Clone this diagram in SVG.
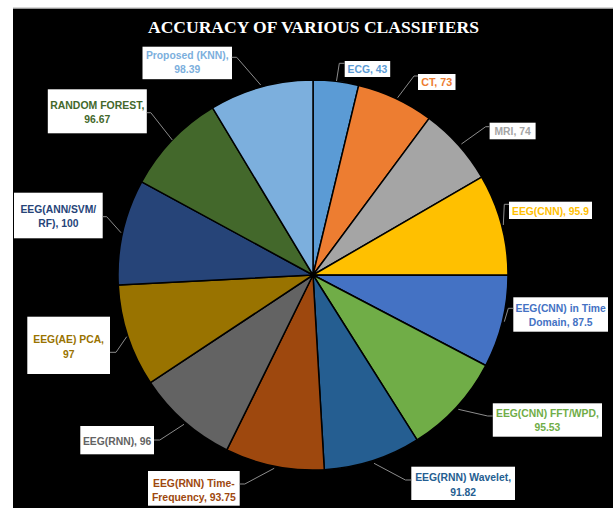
<svg xmlns="http://www.w3.org/2000/svg" width="613" height="508" viewBox="0 0 613 508">
<style>
.slice{stroke:#000;stroke-width:1.5;stroke-linejoin:round}
.box{fill:#fff}
.lbl{font-family:"Liberation Sans",Arial,sans-serif;font-weight:bold;font-size:11px;text-anchor:middle}
.lead{fill:none;stroke:#8c8c8c;stroke-width:1}
.title{font-family:"Liberation Serif","Times New Roman",serif;font-weight:bold;font-size:17.5px;fill:#fff;text-anchor:middle}
</style>
<rect x="0" y="0" width="613" height="508" fill="#fff"/>
<rect x="13" y="8.5" width="600" height="499.5" fill="#000"/>
<line x1="13" y1="8" x2="613" y2="8" stroke="#b0b0b0" stroke-width="1"/>
<text class="title" x="313.5" y="33" textLength="331" lengthAdjust="spacingAndGlyphs">ACCURACY OF VARIOUS CLASSIFIERS</text>

<g id="slice-ecg">
<path class="slice" fill="#5B9BD5" d="M313,275 L313,80 A195,195 0 0,1 358.68,85.43 Z"/>
<rect class="box" x="344.7" y="61" width="45.5" height="16"/>
<text class="lbl" fill="#5B9BD5" x="367.45" y="73" textLength="39.7" lengthAdjust="spacingAndGlyphs">ECG, 43</text>
</g>
<g id="slice-ct">
<path class="slice" fill="#ED7D31" d="M313,275 L358.68,85.43 A195,195 0 0,1 429.13,118.35 Z"/>
<rect class="box" x="418" y="74" width="37.5" height="16"/>
<text class="lbl" fill="#ED7D31" x="436.75" y="86" textLength="31" lengthAdjust="spacingAndGlyphs">CT, 73</text>
</g>
<g id="slice-mri">
<path class="slice" fill="#A5A5A5" d="M313,275 L429.13,118.35 A195,195 0 0,1 481.65,177.10 Z"/>
<rect class="box" x="489.6" y="122.7" width="46" height="16.6"/>
<text class="lbl" fill="#A5A5A5" x="512.6" y="135" textLength="36.2" lengthAdjust="spacingAndGlyphs">MRI, 74</text>
</g>
<g id="slice-eeg-cnn">
<path class="slice" fill="#FFC000" d="M313,275 L481.65,177.10 A195,195 0 0,1 508.00,275.28 Z"/>
<rect class="box" x="509" y="201.7" width="83" height="17.3"/>
<text class="lbl" fill="#FFC000" x="550.5" y="214.5" textLength="77" lengthAdjust="spacingAndGlyphs">EEG(CNN), 95.9</text>
</g>
<g id="slice-eeg-cnn-time">
<path class="slice" fill="#4472C4" d="M313,275 L508.00,275.28 A195,195 0 0,1 485.73,365.50 Z"/>
<rect class="box" x="513.3" y="297.3" width="94.7" height="34.4"/>
<text class="lbl" fill="#4472C4" x="560.65" y="311.5" textLength="90.2" lengthAdjust="spacingAndGlyphs">EEG(CNN) in Time</text>
<text class="lbl" fill="#4472C4" x="560.65" y="325.5" textLength="63.8" lengthAdjust="spacingAndGlyphs">Domain, 87.5</text>
</g>
<g id="slice-eeg-cnn-fft">
<path class="slice" fill="#70AD47" d="M313,275 L485.73,365.50 A195,195 0 0,1 417.05,439.92 Z"/>
<rect class="box" x="492.8" y="403.3" width="109.2" height="33.4"/>
<text class="lbl" fill="#70AD47" x="547.4" y="417" textLength="102.8" lengthAdjust="spacingAndGlyphs">EEG(CNN) FFT/WPD,</text>
<text class="lbl" fill="#70AD47" x="547.4" y="431.3" textLength="25.9" lengthAdjust="spacingAndGlyphs">95.53</text>
</g>
<g id="slice-eeg-rnn-wavelet">
<path class="slice" fill="#255E91" d="M313,275 L417.05,439.92 A195,195 0 0,1 324.29,469.67 Z"/>
<rect class="box" x="411.3" y="466.7" width="103.7" height="33.3"/>
<text class="lbl" fill="#255E91" x="463.15" y="481" textLength="95.9" lengthAdjust="spacingAndGlyphs">EEG(RNN) Wavelet,</text>
<text class="lbl" fill="#255E91" x="463.15" y="495.5" textLength="25.9" lengthAdjust="spacingAndGlyphs">91.82</text>
</g>
<g id="slice-eeg-rnn-tf">
<path class="slice" fill="#9E480E" d="M313,275 L324.29,469.67 A195,195 0 0,1 226.84,449.93 Z"/>
<rect class="box" x="148" y="471" width="91.7" height="34.7"/>
<text class="lbl" fill="#9E480E" x="193.85" y="486.8" textLength="81.6" lengthAdjust="spacingAndGlyphs">EEG(RNN) Time-</text>
<text class="lbl" fill="#9E480E" x="193.85" y="500.8" textLength="83.9" lengthAdjust="spacingAndGlyphs">Frequency, 93.75</text>
</g>
<g id="slice-eeg-rnn">
<path class="slice" fill="#636363" d="M313,275 L226.84,449.93 A195,195 0 0,1 150.44,382.72 Z"/>
<rect class="box" x="80.3" y="426" width="73.7" height="28.3"/>
<text class="lbl" fill="#636363" x="117.15" y="444.5" textLength="68.4" lengthAdjust="spacingAndGlyphs">EEG(RNN), 96</text>
</g>
<g id="slice-eeg-ae">
<path class="slice" fill="#997300" d="M313,275 L150.44,382.72 A195,195 0 0,1 118.26,285.10 Z"/>
<rect class="box" x="27.3" y="316.7" width="82.7" height="57.3"/>
<text class="lbl" fill="#997300" x="68.65" y="342.7" textLength="70.7" lengthAdjust="spacingAndGlyphs">EEG(AE) PCA,</text>
<text class="lbl" fill="#997300" x="68.65" y="357.5" textLength="11.5" lengthAdjust="spacingAndGlyphs">97</text>
</g>
<g id="slice-eeg-ann">
<path class="slice" fill="#264478" d="M313,275 L118.26,285.10 A195,195 0 0,1 141.69,181.82 Z"/>
<rect class="box" x="14" y="192.7" width="88.7" height="45.6"/>
<text class="lbl" fill="#264478" x="58.35" y="212.8" textLength="75.8" lengthAdjust="spacingAndGlyphs">EEG(ANN/SVM/</text>
<text class="lbl" fill="#264478" x="58.35" y="227.3" textLength="40.2" lengthAdjust="spacingAndGlyphs">RF), 100</text>
</g>
<g id="slice-random-forest">
<path class="slice" fill="#43682B" d="M313,275 L141.69,181.82 A195,195 0 0,1 212.56,107.85 Z"/>
<rect class="box" x="47.8" y="89.3" width="99" height="44"/>
<text class="lbl" fill="#43682B" x="97.3" y="108.8" textLength="94.2" lengthAdjust="spacingAndGlyphs">RANDOM FOREST,</text>
<text class="lbl" fill="#43682B" x="97.3" y="123" textLength="25.9" lengthAdjust="spacingAndGlyphs">96.67</text>
</g>
<g id="slice-proposed-knn">
<path class="slice" fill="#7CAFDD" d="M313,275 L212.56,107.85 A195,195 0 0,1 313,80 Z"/>
<rect class="box" x="142.5" y="46.7" width="89.5" height="32.5"/>
<text class="lbl" fill="#7CAFDD" x="187.25" y="59.3" textLength="82.7" lengthAdjust="spacingAndGlyphs">Proposed (KNN),</text>
<text class="lbl" fill="#7CAFDD" x="187.25" y="73.3" textLength="25.9" lengthAdjust="spacingAndGlyphs">98.39</text>
</g>

<g id="connectors">
<polyline class="lead" points="231.7,57.3 236.7,57.3 260.7,85"/>
<polyline class="lead" points="344.7,63.3 339.3,63.3 336.5,81"/>
<polyline class="lead" points="418,76 414,76 397.6,97.7"/>
<polyline class="lead" points="489.6,126.7 485.7,126.7 461.4,144"/>
<polyline class="lead" points="146.8,112.7 150.8,112.7 172.3,140"/>
<polyline class="lead" points="102.7,216.7 106.7,216.7 121,232.7"/>
<polyline class="lead" points="509,204.3 504.3,204.3 503.3,225"/>
<polyline class="lead" points="513.3,308.3 508.3,308.3 504.3,321.7"/>
<polyline class="lead" points="110,352.3 116,352.3 126.7,336.7"/>
<polyline class="lead" points="154,440 159.8,440 184,424.3"/>
<polyline class="lead" points="239.7,484 244.8,484 274.2,468.3"/>
<polyline class="lead" points="411.3,480 405.4,480 374,463.3"/>
<polyline class="lead" points="492.8,416 487.7,416 458.3,409.3"/>
</g>
</svg>
